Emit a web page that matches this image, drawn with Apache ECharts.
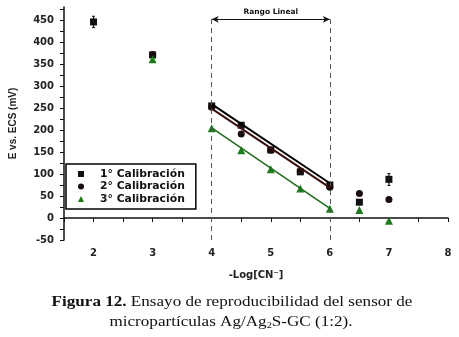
<!DOCTYPE html>
<html>
<head>
<meta charset="utf-8">
<script src="https://cdn.jsdelivr.net/npm/echarts@6/dist/echarts.min.js"></script>
<style>
  html, body { margin: 0; padding: 0; background: #fff; }
  #chart { width: 459px; height: 337px; }
</style>
</head>
<body>
<div id="chart"></div>
<script>
// data
const logCN = [2, 3, 4, 4.5, 5, 5.5, 6, 6.5, 7];
const cal1 = [446, 371, 255, 211, 155, 105, 75, 36, 88];
const cal2 = [null, 372, 252, 191, 154, 106, 70, 56, 42];
const cal3 = [null, 361, 204, 154, 111, 67, 21, 18, -6];
const err1 = [[2, 433, 459], [7, 74, 101]];
const fit1 = [[4, 259], [6, 79]];
const fit2 = [[4, 249], [6, 69]];
const fit3 = [[4, 205], [6, 22]];
const linearRange = [4, 6];
const names = ['1° Calibración', '2° Calibración', '3° Calibración'];

function pairs(vals) {
  return logCN.map((x, i) => [x, vals[i]]).filter(p => p[1] != null);
}

const labelFont = { fontFamily: 'DejaVu Sans', fontWeight: 'bold', fontSize: 10, color: '#222' };

let option = {
  animation: false,
  grid: { left: 60, right: 11, top: 7, bottom: 97 },
  legend: {
    data: names,
    orient: 'vertical',
    left: 66, top: 164,
    itemWidth: 6, itemHeight: 6, itemGap: 0.5,
    padding: [4, 11, 4, 12],
    borderColor: '#000', borderWidth: 1.5,
    textStyle: {
      fontFamily: 'DejaVu Sans', fontWeight: 'bold', fontSize: 10.8, color: '#111',
      lineHeight: 12, padding: [0, 0, 0, 11]
    }
  },
  xAxis: {
    type: 'value', min: 1.5, max: 8, interval: 0.5,
    name: '-Log[CN⁻]', nameLocation: 'middle', nameGap: 30,
    nameTextStyle: { fontFamily: 'DejaVu Sans', fontWeight: 'bold', fontSize: 10, color: '#222' },
    axisLine: { lineStyle: { color: '#111', width: 1.5 } },
    axisTick: { length: 4, lineStyle: { color: '#111' } },
    axisLabel: Object.assign({
      margin: 8,
      formatter: v => (Number.isInteger(v) ? String(v) : '')
    }, labelFont),
    splitLine: { show: false }
  },
  yAxis: {
    type: 'value', min: -50, max: 480, interval: 25,
    name: 'E vs. ECS (mV)', nameLocation: 'middle', nameGap: 46,
    nameTextStyle: { fontFamily: 'Liberation Sans', fontWeight: 'bold', fontSize: 10, color: '#222' },
    axisLine: { show: true, lineStyle: { color: '#111', width: 1.5 } },
    axisTick: { show: true, length: 4, lineStyle: { color: '#111' } },
    axisLabel: Object.assign({
      margin: 10, showMaxLabel: false,
      formatter: v => (v % 50 === 0 && v <= 450 ? String(v) : '')
    }, labelFont),
    splitLine: { show: false }
  },
  series: [
    {
      type: 'line', data: fit1, symbol: 'none', silent: true,
      lineStyle: { color: '#000', width: 2 },
      markLine: {
        silent: true, symbol: 'none',
        lineStyle: { color: '#555', type: [5, 4], width: 1 },
        label: { show: false },
        data: [
          [{ coord: [linearRange[0], -50] }, { coord: [linearRange[0], 452] }],
          [{ coord: [linearRange[1], -50] }, { coord: [linearRange[1], 452] }]
        ]
      }
    },
    {
      type: 'line', data: fit2, symbol: 'none', silent: true,
      lineStyle: { color: '#3a0e0e', width: 2 },
      markLine: {
        silent: true, symbol: ['arrow', 'arrow'], symbolSize: [5, 7],
        lineStyle: { color: '#111', type: 'solid', width: 1 },
        label: {
          show: true, position: 'middle', formatter: 'Rango Lineal', distance: 3,
          fontFamily: 'DejaVu Sans', fontWeight: 'bold', fontSize: 7.5, color: '#111'
        },
        data: [[{ coord: [linearRange[0], 452] }, { coord: [linearRange[1], 452] }]]
      }
    },
    {
      type: 'line', data: fit3, symbol: 'none', silent: true,
      lineStyle: { color: '#1d6b1d', width: 1.5 }
    },
    {
      type: 'custom', silent: true,
      data: err1,
      renderItem: function (params, api) {
        const x = api.value(0);
        const lo = api.coord([x, api.value(1)]);
        const hi = api.coord([x, api.value(2)]);
        return {
          type: 'group',
          children: [
            { type: 'line', shape: { x1: lo[0], y1: lo[1], x2: hi[0], y2: hi[1] }, style: { stroke: '#111', lineWidth: 1.2 } },
            { type: 'line', shape: { x1: lo[0] - 1.5, y1: lo[1], x2: lo[0] + 1.5, y2: lo[1] }, style: { stroke: '#111', lineWidth: 1 } },
            { type: 'line', shape: { x1: hi[0] - 1.5, y1: hi[1], x2: hi[0] + 1.5, y2: hi[1] }, style: { stroke: '#111', lineWidth: 1 } }
          ]
        };
      }
    },
    {
      name: names[0], type: 'scatter', data: pairs(cal1),
      symbol: 'rect', symbolSize: 7,
      itemStyle: { color: '#111', opacity: 1 }
    },
    {
      name: names[1], type: 'scatter', data: pairs(cal2),
      symbol: 'circle', symbolSize: 7,
      itemStyle: { color: '#1a0d0d', opacity: 1 }
    },
    {
      name: names[2], type: 'scatter', data: pairs(cal3),
      symbol: 'triangle', symbolSize: 8,
      itemStyle: { color: '#1d7a1d', opacity: 1 }
    }
  ],
  graphic: [
    {
      type: 'text', x: 232, y: 295, scaleX: 1.14,
      style: {
        text: '{b|Figura 12.} Ensayo de reproducibilidad del sensor de',
        align: 'center',
        font: '15px "Liberation Serif"', fill: '#111',
        rich: { b: { fontFamily: 'Liberation Serif', fontWeight: 'bold', fontSize: 15, fill: '#111' } }
      }
    },
    {
      type: 'text', x: 231, y: 315, scaleX: 1.14,
      style: {
        text: 'micropartículas Ag/Ag{s|2}S-GC (1:2).',
        align: 'center',
        font: '15px "Liberation Serif"', fill: '#111',
        rich: { s: { fontFamily: 'Liberation Serif', fontSize: 9, fill: '#111', padding: [6, 0, 0, 0] } }
      }
    }
  ]
};

let myChart = echarts.init(document.getElementById('chart'));
myChart.setOption(option);
</script>
</body>
</html>
